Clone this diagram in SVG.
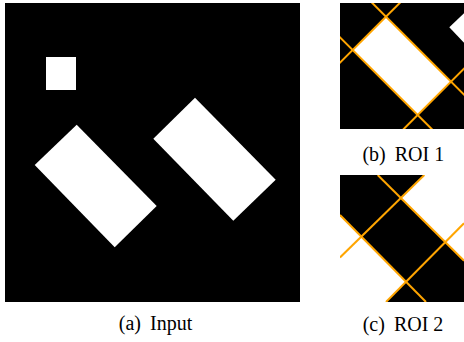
<svg xmlns="http://www.w3.org/2000/svg" width="464" height="342" viewBox="0 0 464 342">
<style>
.bg{fill:#000}
.w{fill:#fff}
.ln{stroke:#FFA500;stroke-width:2;fill:none}
.cap{font-family:"Liberation Serif","Times New Roman",serif;font-size:20px;fill:#000;text-anchor:middle}
</style>
<defs>
<clipPath id="c1"><rect x="340" y="3" width="124" height="126"/></clipPath>
<clipPath id="c2"><rect x="340" y="175" width="124" height="127"/></clipPath>
</defs>
<rect width="464" height="342" fill="#fff"/>
<g id="input">
<rect class="bg" x="5" y="3" width="295" height="299"/>
<rect class="w" x="46" y="57" width="30" height="33"/>
<polygon class="w" points="76.7,124.7 156.7,206 114.7,247.3 34.7,165"/>
<polygon class="w" points="195,97.7 275.7,179.7 233.3,220.7 153.3,138.7"/>
<text class="cap" x="155.5" y="330">(a)<tspan dx="4"> Input</tspan></text>
</g>
<g id="roi1">
<g clip-path="url(#c1)">
<rect class="bg" x="340" y="3" width="124" height="126"/>
<polygon class="w" points="464,13.3 449.3,27.3 464,42.7"/>
<polygon class="w" points="386,16.7 451,81.7 417.7,115 352.7,50"/>
</g>
<text class="cap" x="403.3" y="160.7">(b)<tspan dx="4"> ROI 1</tspan></text>
</g>
<g id="roi2">
<g clip-path="url(#c2)">
<rect class="bg" x="340" y="175" width="124" height="127"/>
<polygon class="w" points="424.3,175 401,198.3 464,260.7 464,175"/>
<polygon class="w" points="340,215 406,281.7 386,302 340,302"/>
</g>
<text class="cap" x="403" y="330.5">(c)<tspan dx="4"> ROI 2</tspan></text>
</g>
<g id="connectors">
<g clip-path="url(#c1)">
<line class="ln" x1="338" y1="64.7" x2="401.7" y2="1"/>
<line class="ln" x1="370.3" y1="1" x2="466" y2="96.7"/>
<line class="ln" x1="338" y1="35.3" x2="433.7" y2="131"/>
<line class="ln" x1="401.7" y1="131" x2="466" y2="66.7"/>
</g>
<g clip-path="url(#c2)">
<line class="ln" x1="340" y1="257.5" x2="424.3" y2="175"/>
<line class="ln" x1="377.7" y1="175" x2="464" y2="260.7"/>
<line class="ln" x1="340" y1="215" x2="426" y2="302"/>
<line class="ln" x1="464" y1="223.3" x2="386" y2="302"/>
</g>
</g>
</svg>
